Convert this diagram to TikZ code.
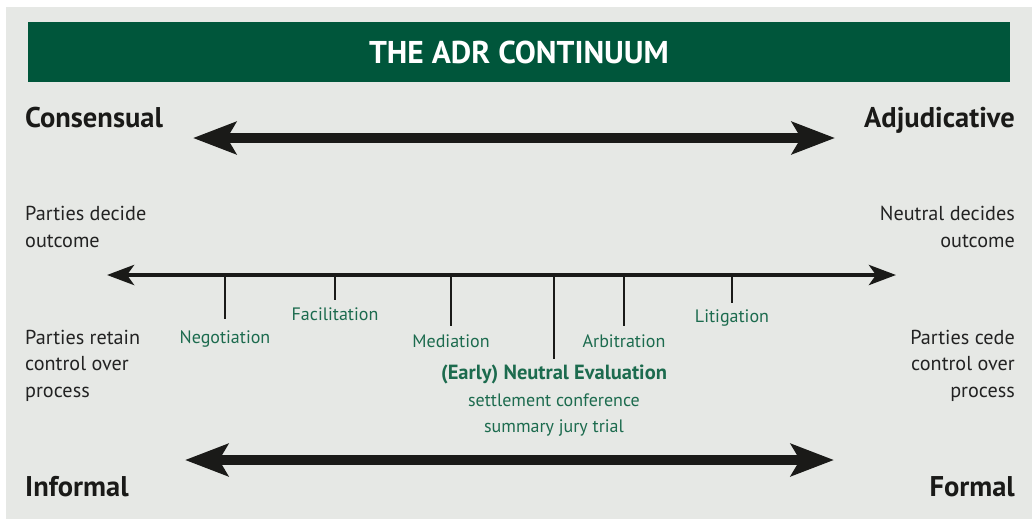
\documentclass[tikz,border=0pt]{standalone}
\usepackage{fontspec}
\setmainfont{PT Sans}
\usetikzlibrary{arrows.meta}
\definecolor{bggray}{HTML}{E6E8E5}
\definecolor{bannergreen}{HTML}{00563B}
\definecolor{labelgreen}{HTML}{1C6B4E}
\definecolor{inkdark}{HTML}{1A1A18}
\definecolor{textdark}{HTML}{222222}
\tikzset{
  heading/.style={font=\fontsize{28.5}{32}\selectfont\bfseries, text=inkdark, inner sep=0pt},
  sidetext/.style={font=\fontsize{20.2}{26.5}\selectfont, text=textdark, inner sep=0pt},
  methodlabel/.style={font=\fontsize{18}{26}\selectfont, text=labelgreen, inner sep=0pt},
  bigarrow/.style={line width=10pt, draw=inkdark, {Stealth[length=43pt,width=32pt,inset=9pt]}-{Stealth[length=43pt,width=32pt,inset=9pt]}},
  axisarrow/.style={line width=4.5pt, draw=inkdark, {Stealth[length=27pt,width=20pt,inset=7pt]}-{Stealth[length=27pt,width=20pt,inset=7pt]}},
  tickline/.style={line width=2.6pt, draw=inkdark},
}
\begin{document}
\begin{tikzpicture}[x=1pt,y=-1pt]
\useasboundingbox (0,0) rectangle (1032,522);
\fill[white] (0,0) rectangle (1032,522);
\fill[bggray] (6,7) rectangle (1032,519);
\fill[bannergreen] (28,22) rectangle (1010,82);
\node[font=\fontsize{31.5}{34}\selectfont\bfseries, text=white, inner sep=0pt, anchor=base] (title) at (519,63) {THE ADR CONTINUUM};

% headings
\node[heading, anchor=base west] (consensual) at (25,127) {Consensual};
\node[heading, anchor=base east] (adjudicative) at (1015,127) {Adjudicative};
\node[heading, anchor=base west] (informal) at (25,496) {Informal};
\node[heading, anchor=base east] (formal) at (1015,496) {Formal};

% big arrows
\coordinate (tl) at (193,138);
\coordinate (tr) at (835,138);
\draw[bigarrow] (tl) -- (tr);
\coordinate (bl) at (185,460);
\coordinate (br) at (834,460);
\draw[bigarrow] (bl) -- (br);

% side texts (base anchor = baseline of last line)
\node[sidetext, anchor=base west, align=left] (pdecide) at (25,247) {Parties decide\\outcome};
\node[sidetext, anchor=base east, align=right] (ndecide) at (1015,247) {Neutral decides\\outcome};
\node[sidetext, anchor=base west, align=left] (pretain) at (25,397) {Parties retain\\control over\\process};
\node[sidetext, anchor=base east, align=right] (pcede) at (1015,397) {Parties cede\\control over\\process};

% axis
\coordinate (al) at (107,275);
\coordinate (ar) at (896,275);
\draw[axisarrow] (al) -- (ar);

% ticks
\coordinate (t1) at (225,275);
\coordinate (t2) at (335,275);
\coordinate (t3) at (451,275);
\coordinate (t4) at (554,275);
\coordinate (t5) at (624,275);
\coordinate (t6) at (732,275);
\coordinate (b1) at (225,319);
\coordinate (b2) at (335,300);
\coordinate (b3) at (451,326);
\coordinate (b4) at (554,359);
\coordinate (b5) at (624,326);
\coordinate (b6) at (732,303);
\draw[tickline] (t1) -- (b1);
\draw[tickline] (t2) -- (b2);
\draw[tickline] (t3) -- (b3);
\draw[tickline] (t4) -- (b4);
\draw[tickline] (t5) -- (b5);
\draw[tickline] (t6) -- (b6);

% method labels
\node[methodlabel, anchor=base] (negotiation) at (225,343) {Negotiation};
\node[methodlabel, anchor=base] (facilitation) at (335,320) {Facilitation};
\node[methodlabel, anchor=base] (mediation) at (451,347) {Mediation};
\node[methodlabel, anchor=base] (arbitration) at (624,347) {Arbitration};
\node[methodlabel, anchor=base] (litigation) at (732,322) {Litigation};
\node[methodlabel, font=\fontsize{20.5}{26}\selectfont\bfseries, anchor=base] (evaluation) at (554,379) {(Early) Neutral Evaluation};
\node[methodlabel, anchor=base] (settlement) at (554,406) {settlement conference};
\node[methodlabel, anchor=base] (summary) at (554,432) {summary jury trial};
\end{tikzpicture}
\end{document}
